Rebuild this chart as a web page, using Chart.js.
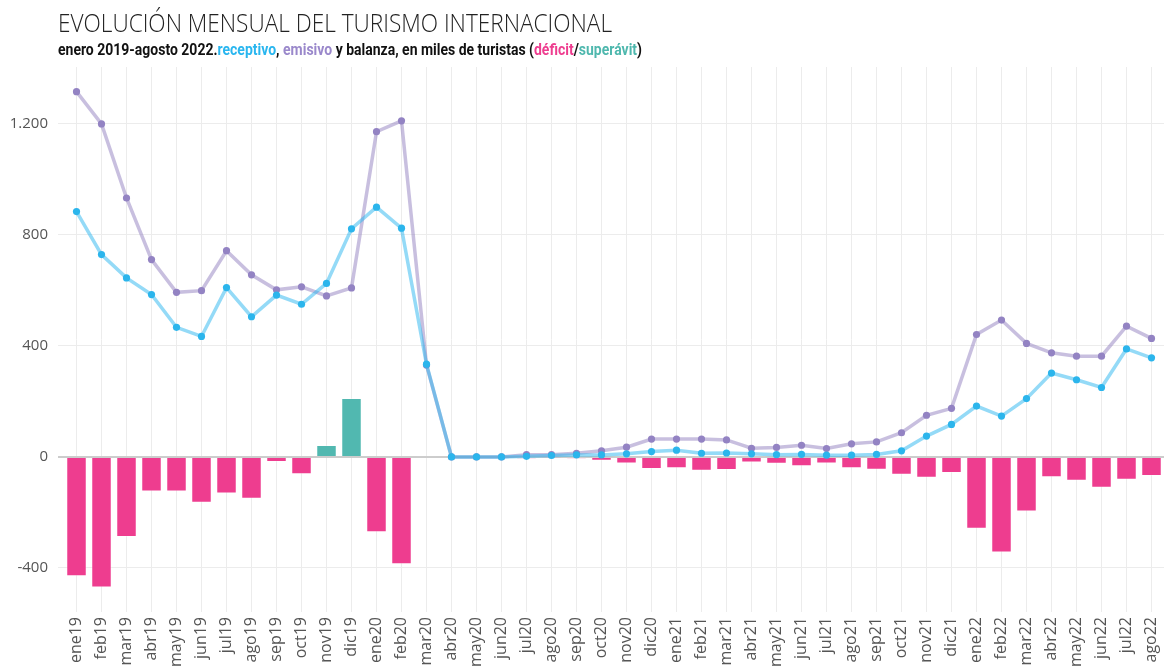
<!DOCTYPE html>
<html>
<head>
<meta charset="utf-8">
<script src="https://cdn.jsdelivr.net/npm/chart.js@4.4.0/dist/chart.umd.min.js"></script>
<style>
  html, body { margin: 0; padding: 0; background: #fff; }
  #wrap { position: relative; width: 1168px; height: 668px; overflow: hidden; }
  #chart { position: absolute; left: 0; top: 0; }
  .head { position: absolute; left: 58px; white-space: nowrap; transform-origin: 0 0; }
  #title { top: 5px; font-family: "Open Sans", sans-serif; font-weight: 300; font-size: 25px; color: #222; }
  #sub { top: 40px; font-family: "Roboto", sans-serif; font-weight: 700; font-size: 16px; color: #111; }
</style>
</head>
<body>
<div id="wrap">
  <canvas id="chart" width="1168" height="668"></canvas>
  <div id="title" class="head">EVOLUCIÓN MENSUAL DEL TURISMO INTERNACIONAL</div>
  <div id="sub" class="head">enero 2019-agosto 2022.<span style="color:#29b6ef">receptivo</span>, <span style="color:#9a88cb">emisivo</span> y balanza, en miles de turistas (<span style="color:#ee3d8f">déficit</span>/<span style="color:#4fb8ae">superávit</span>)</div>
</div>
<script>
// months
const months = [
    'ene19','feb19','mar19','abr19','may19','jun19','jul19','ago19','sep19','oct19','nov19','dic19',
    'ene20','feb20','mar20','abr20','may20','jun20','jul20','ago20','sep20','oct20','nov20','dic20',
    'ene21','feb21','mar21','abr21','may21','jun21','jul21','ago21','sep21','oct21','nov21','dic21',
    'ene22','feb22','mar22','abr22','may22','jun22','jul22','ago22'
];

// thousands of tourists
const receptivo = [
    884, 729, 645, 585, 467, 434, 610, 505, 583, 550, 625, 822,
    900, 824, 334, 0, 0, 0, 2, 5, 7, 7, 11, 19,
    24, 13, 14, 11, 8, 9, 6, 6, 9, 22, 75, 117,
    183, 147, 210, 302, 278, 250, 389, 357
];
const emisivo = [
    1316, 1200, 933, 711, 593, 599, 743, 656, 602, 613, 580, 609,
    1172, 1211, 331, 0, 0, 0, 8, 8, 13, 22, 35, 64,
    64, 64, 61, 31, 34, 42, 30, 47, 54, 87, 150, 175,
    441, 493, 409, 375, 363, 363, 471, 427
];
const balanza = [
    -430, -471, -289, -125, -125, -165, -132, -151, -18, -63, 43, 212,
    -272, -387, 2, 0, 0, 0, -6, -3, -6, -14, -24, -44,
    -41, -50, -47, -20, -25, -34, -24, -41, -46, -64, -75, -58,
    -259, -345, -197, -73, -86, -111, -82, -69
];
const yTicks = [-400, 0, 400, 800, 1200];

const pink = '#ee3d8f';
const teal = '#51b8b0';

// fit the header lines to the widths in the original
function fit(id, w) {
    const el = document.getElementById(id);
    const r = el.getBoundingClientRect().width;
    el.style.transform = 'scaleX(' + (w / r) + ')';
}
fit('title', 554);
fit('sub', 584);

const fmt = v => v.toLocaleString('de-DE');

const ctx = document.getElementById('chart').getContext('2d');
new Chart(ctx, {
    type: 'bar',
    data: {
        labels: months,
        datasets: [
            {
                type: 'line',
                label: 'receptivo',
                data: receptivo,
                borderColor: 'rgba(41,182,239,0.5)',
                backgroundColor: '#2bb5ec',
                pointBackgroundColor: '#2bb5ec',
                pointBorderWidth: 0,
                pointRadius: 3.6,
                borderWidth: 3.5,
                tension: 0,
                order: 1
            },
            {
                type: 'line',
                label: 'emisivo',
                data: emisivo,
                borderColor: 'rgba(145,128,192,0.5)',
                backgroundColor: '#9383c3',
                pointBackgroundColor: '#9383c3',
                pointBorderWidth: 0,
                pointRadius: 3.6,
                borderWidth: 3.5,
                tension: 0,
                order: 2
            },
            {
                label: 'balanza',
                data: balanza,
                backgroundColor: balanza.map(v => v >= 0 ? teal : pink),
                borderColor: 'rgba(255,255,255,0.3)',
                borderWidth: 1,
                borderSkipped: 'start',
                categoryPercentage: 1,
                barPercentage: 0.82,
                order: 3
            }
        ]
    },
    options: {
        responsive: false,
        animation: false,
        layout: { padding: { top: 67, right: 0, left: 0, bottom: 0 } },
        plugins: {
            legend: { display: false },
            tooltip: { enabled: false }
        },
        scales: {
            x: {
                offset: true,
                grid: { offset: false, color: '#ececec', lineWidth: 1, drawTicks: false },
                border: { display: false },
                ticks: {
                    autoSkip: false,
                    minRotation: 90,
                    maxRotation: 90,
                    padding: 5,
                    color: '#555',
                    font: { family: 'Open Sans', size: 16 }
                },
                afterFit: s => { s.height = 56; s.paddingLeft = 0; s.paddingRight = 0; }
            },
            y: {
                min: -559,
                max: 1405,
                afterBuildTicks: s => { s.ticks = yTicks.map(v => ({ value: v })); },
                grid: {
                    color: c => c.tick && c.tick.value === 0 ? '#cccccc' : '#ececec',
                    lineWidth: c => c.tick && c.tick.value === 0 ? 2 : 1,
                    drawTicks: true,
                    tickLength: 6,
                    tickColor: c => c.tick && c.tick.value === 0 ? '#cccccc' : '#ececec'
                },
                border: { display: false },
                ticks: {
                    padding: 10,
                    color: '#555',
                    font: { family: 'Open Sans', size: 15 },
                    callback: v => fmt(v)
                },
                afterFit: s => { s.width = 64; s.paddingTop = 0; s.paddingBottom = 0; }
            }
        }
    }
});
</script>
</body>
</html>
